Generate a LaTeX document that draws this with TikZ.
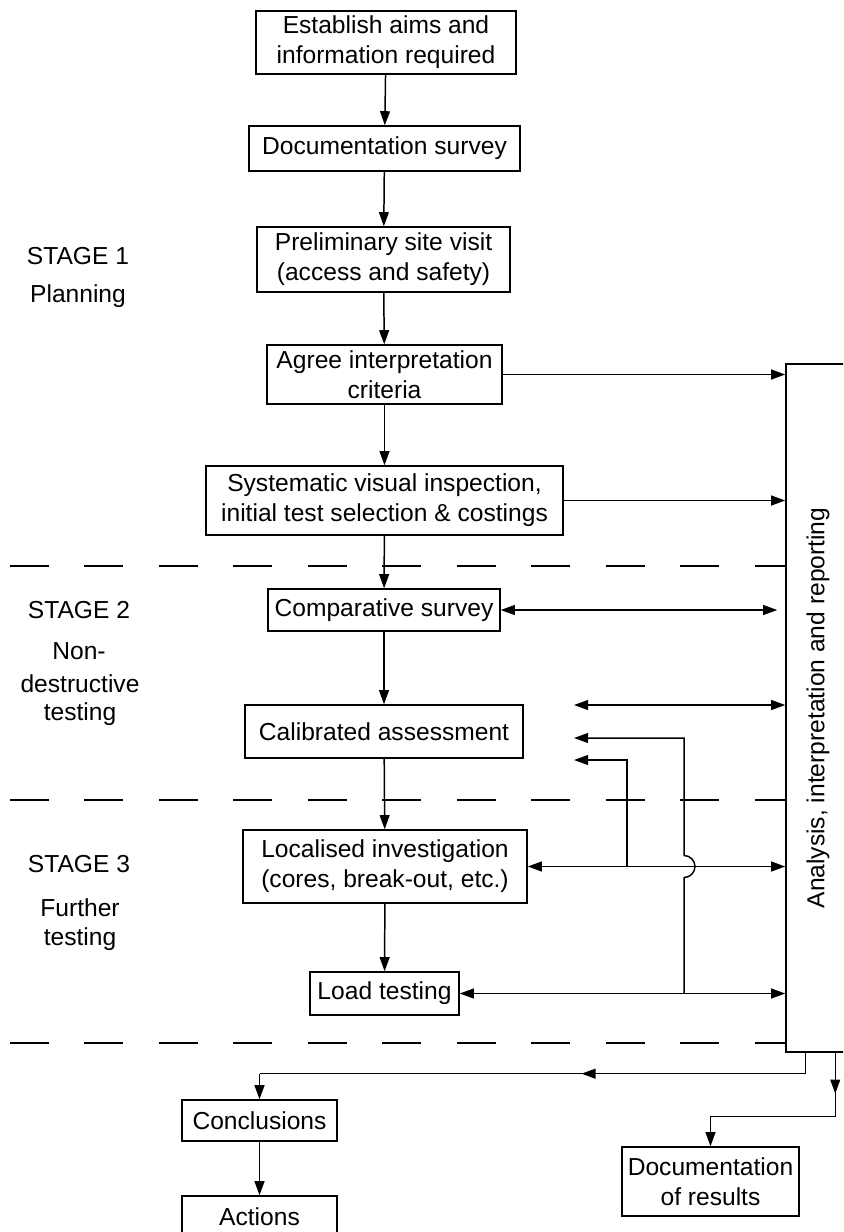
\documentclass[tikz,border=0pt]{standalone}
\usepackage{fontspec}
\setmainfont{Liberation Sans}
\usetikzlibrary{arrows.meta,calc,decorations.markings}

\begin{document}
\begin{tikzpicture}[x=0.02cm,y=0.02cm,
  line width=0.85pt,
  font=\fontsize{14}{17}\selectfont,
  >={Triangle[length=8pt,width=5.6pt]},
  box/.style={draw,rectangle,align=center,inner sep=0pt},
  lbl/.style={align=center,inner sep=0pt},
  sep/.style={dash pattern=on 22pt off 20.4pt,line width=0.85pt},
  midarrow/.style={postaction={decorate},decoration={markings,
      mark=at position #1 with {\arrow{>}}}}]

\useasboundingbox (0,0) rectangle (843,-1232);
\clip (0,0) rectangle (843,-1232);

% main sequence of boxes
\node[box,minimum width=5.2cm,minimum height=1.26cm] (aims) at (386,-42.5)
  {Establish aims and\\information required};
\node[box,minimum width=5.42cm,minimum height=0.9cm] (docs) at (384.5,-148.5)
  {Documentation survey};
\node[box,minimum width=5.06cm,minimum height=1.3cm] (visit) at (383.5,-259.5)
  {Preliminary site visit\\(access and safety)};
\node[box,minimum width=4.7cm,minimum height=1.18cm] (agree) at (384.5,-374.5)
  {Agree interpretation\\criteria};
\node[box,minimum width=7.14cm,minimum height=1.38cm] (sysv) at (384.5,-500.5)
  {Systematic visual inspection,\\initial test selection \& costings};
\node[box,minimum width=4.64cm,minimum height=0.84cm] (comp) at (384,-610)
  {Comparative survey};
\node[box,minimum width=5.56cm,minimum height=1.06cm] (calib) at (384,-731.5)
  {Calibrated assessment};
\node[box,minimum width=5.68cm,minimum height=1.46cm] (local) at (385,-866.5)
  {Localised investigation\\(cores, break-out, etc.)};
\node[box,minimum width=2.98cm,minimum height=0.86cm] (load) at (384.5,-993.5)
  {Load testing};
\node[box,minimum width=3.1cm,minimum height=0.82cm] (concl) at (259.5,-1120.5)
  {Conclusions};
\node[box,minimum width=3.1cm,minimum height=0.82cm] (acts) at (259.5,-1216.5)
  {Actions};
\node[box,minimum width=3.54cm,minimum height=1.38cm] (docres) at (710.5,-1181.5)
  {Documentation\\of results};

% analysis column on the right
\node[draw,rectangle,minimum width=2.28cm,minimum height=13.76cm] (ana) at (843,-708) {};
\node[lbl,rotate=90] (anatext) at (818,-708) {Analysis, interpretation and reporting};

% stage labels
\node[lbl] (s1) at (78,-256) {STAGE 1};
\node[lbl] (s1b) at (78,-296) {Planning};
\node[lbl] (s2) at (79,-610) {STAGE 2};
\node[lbl] (s2b) at (79,-651) {Non-};
\node[lbl] (s2c) at (80,-684) {destructive};
\node[lbl] (s2d) at (80,-714) {testing};
\node[lbl] (s3) at (79,-864) {STAGE 3};
\node[lbl] (s3b) at (80,-908) {Further};
\node[lbl] (s3c) at (80,-939) {testing};

% stage separators
\coordinate (d1) at (10,-566);
\coordinate (d2) at (10,-800);
\coordinate (d3) at (10,-1043);
\draw[sep] (d1) -- (d1 -| ana.west);
\draw[sep] (d2) -- (d2 -| ana.west);
\draw[sep] (d3) -- (d3 -| ana.west);

% main flow
\draw[->] (aims) -- (docs);
\draw[->] (docs) -- (visit);
\draw[->] (visit) -- (agree);
\draw[->] (agree) -- (sysv);
\draw[->] (sysv) -- (comp);
\draw[->] (comp) -- (calib);
\draw[->] (calib) -- (local);
\draw[->] (local) -- (load);
\draw[->] (concl) -- (acts);

% links to analysis
\draw[->] (agree.east) -- (agree.east -| ana.west);
\draw[->] (sysv.east) -- (sysv.east -| ana.west);
\draw[<->,shorten >=0.16cm] (comp.east) -- (comp.east -| ana.west);
\coordinate (fb0) at (574,-705);
\draw[<->] (fb0) -- (fb0 -| ana.west);
\draw[<->] (local.east) -- (local.east -| ana.west);
\draw[<->] (load.east) -- (load.east -| ana.west);

% feedback to calibrated assessment
\coordinate (fb1) at (574,-738);
\coordinate (fb2) at (574,-760);
\coordinate (v1) at (627,-760);
\coordinate (v2) at (684,-738);
\draw[->] (v1 |- local.east) -- (v1) -- (fb2);
\draw[->] (v2 |- load.east) -- ($(v2 |- local.east)+(0,-11)$)
  arc[start angle=-90,end angle=90,radius=0.22cm] -- (v2) -- (fb1);

% outputs
\coordinate (o1) at ([xshift=0.4cm]ana.south west);
\coordinate (o2) at ([xshift=1.0cm]ana.south west);
\coordinate (j1) at ($(o1)+(0,-21)$);
\coordinate (j2) at ($(o2)+(0,-64)$);
\draw (o1) -- (j1);
\draw[midarrow=0.41] (j1) -- (j1 -| concl.north);
\draw[->] (j1 -| concl.north) -- (concl.north);
\draw[midarrow=0.64] (o2) -- (j2);
\draw[->] (j2) -| (docres.north);
\end{tikzpicture}
\end{document}
